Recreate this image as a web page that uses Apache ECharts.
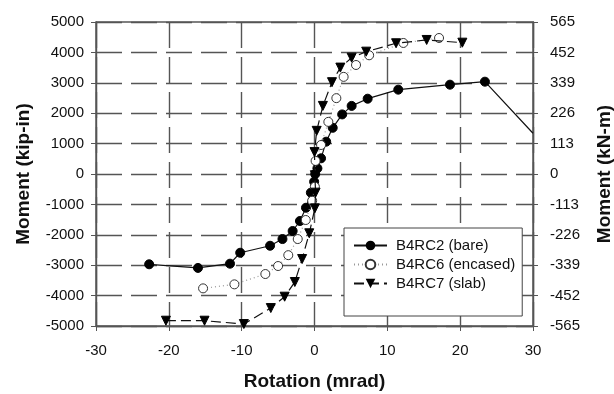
<!DOCTYPE html>
<html><head><meta charset="utf-8">
<script src="https://cdn.jsdelivr.net/npm/echarts@6/dist/echarts.min.js"></script>
<style>html,body{margin:0;padding:0;background:#fff}#c{width:614px;height:394px}</style>
</head><body><div id="c"></div>
<script>
const xTicks = [-30,-20,-10,0,10,20,30];
const leftTicks = [5000,4000,3000,2000,1000,0,-1000,-2000,-3000,-4000,-5000];
const rightTicks = [565,452,339,226,113,0,-113,-226,-339,-452,-565];

const rc2Rot = [-22.7,-16.0,-11.6,-10.2,-6.1,-4.4,-3.0,-2.0,-1.17,-0.5,-0.05,0.1,0.4,0.9,1.6,2.5,3.8,5.1,7.3,11.5,18.6,23.4,30];
const rc2Mom = [-2970,-3090,-2950,-2590,-2360,-2140,-1875,-1546,-1110,-614,-253,0,187,516,1063,1520,1960,2240,2477,2774,2938,3037,1340];

const rc6Rot = [-15.3,-11.0,-6.75,-5.0,-3.6,-2.3,-1.2,-0.32,0.05,0.15,0.9,1.9,3.0,4.0,5.7,7.5,12.2,17.1];
const rc6Mom = [-3762,-3630,-3290,-3027,-2670,-2140,-1513,-880,-417,430,954,1715,2495,3195,3586,3905,4310,4474];

const rc7Rot = [-20.4,-15.1,-9.7,-6.0,-4.1,-2.7,-1.7,-0.72,0.05,0.15,0.05,0.0,0.3,1.15,2.4,3.55,5.1,7.1,11.2,15.4,20.3];
const rc7Mom = [-4826,-4826,-4935,-4410,-4036,-3553,-2797,-1951,-1130,-614,-40,720,1420,2240,3020,3500,3826,4024,4300,4409,4320];

const names = ['B4RC2 (bare)','B4RC6 (encased)','B4RC7 (slab)'];

function pairs(xs, ys){ return xs.map((x,i)=>[x, ys[i]]); }
const rc2Data = pairs(rc2Rot, rc2Mom).map((p,i,a)=> i===a.length-1 ? {value:p, symbol:'none'} : p);

const font = 'Liberation Sans, Arial, sans-serif';
const gridLine = {show:true, lineStyle:{color:'#555', width:1.4, type:[26,9]}};

const chart = echarts.init(document.getElementById('c'), null, {renderer:'canvas'});
chart.setOption({
  animation:false,
  backgroundColor:'#fff',
  textStyle:{fontFamily:font},
  grid:{left:96, right:81, top:22, bottom:68, show:true, borderColor:'#555', borderWidth:1.4,
        containLabel:false, outerBoundsMode:'none'},
  legend:{
    data:names, orient:'vertical', left:344, top:228,
    padding:[10,7,25,9], itemGap:4, itemWidth:33, itemHeight:12,
    backgroundColor:'#fff', borderColor:'#444', borderWidth:1,
    textStyle:{fontSize:15, color:'#111', fontFamily:font, padding:[0,0,0,4]}
  },
  xAxis:{
    type:'value', min:-30, max:30, interval:10,
    name:'Rotation (mrad)', nameLocation:'middle', nameGap:46,
    nameTextStyle:{fontSize:19, fontWeight:'bold', color:'#111', fontFamily:font},
    axisLine:{show:true, onZero:false, lineStyle:{color:'#555', width:1.4}},
    axisTick:{show:true, inside:false, length:5, lineStyle:{color:'#555'}},
    axisLabel:{fontSize:15, color:'#111', margin:17, fontFamily:font, formatter:v=>String(v)},
    splitLine:gridLine
  },
  yAxis:[{
    type:'value', min:-5000, max:5000, interval:1000, position:'left',
    name:'Moment (kip-in)', nameLocation:'middle', nameGap:63, nameRotate:90,
    nameTextStyle:{fontSize:19, fontWeight:'bold', color:'#111', fontFamily:font},
    axisLine:{show:true, onZero:false, lineStyle:{color:'#555', width:1.4}},
    axisTick:{show:true, length:5, lineStyle:{color:'#555'}},
    axisLabel:{fontSize:15, color:'#111', margin:12, fontFamily:font, formatter:v=>String(v)},
    splitLine:gridLine
  },{
    type:'value', min:-565, max:565, interval:113, position:'right',
    name:'Moment (kN-m)', nameLocation:'middle', nameGap:62, nameRotate:90,
    nameTextStyle:{fontSize:19, fontWeight:'bold', color:'#111', fontFamily:font},
    axisLine:{show:true, onZero:false, lineStyle:{color:'#555', width:1.4}},
    axisTick:{show:true, length:5, lineStyle:{color:'#555'}},
    axisLabel:{fontSize:15, color:'#111', margin:17, fontFamily:font, formatter:v=>String(v)},
    splitLine:{show:false}
  }],
  series:[{
    name:names[0], type:'line', data:rc2Data, symbol:'circle', symbolSize:9,
    itemStyle:{color:'#000', borderColor:'#000'},
    lineStyle:{color:'#111', width:1.2, type:'solid'}, z:3
  },{
    name:names[1], type:'line', data:pairs(rc6Rot, rc6Mom), symbol:'circle', symbolSize:9,
    itemStyle:{color:'#fff', borderColor:'#333', borderWidth:1},
    lineStyle:{color:'#999', width:1.2, type:[1,3]}, z:4
  },{
    name:names[2], type:'line', data:pairs(rc7Rot, rc7Mom), symbol:'triangle', symbolSize:9, symbolRotate:180,
    itemStyle:{color:'#000', borderColor:'#000'},
    lineStyle:{color:'#111', width:1.2, type:[10,5]}, z:5
  }]
});
</script></body></html>
